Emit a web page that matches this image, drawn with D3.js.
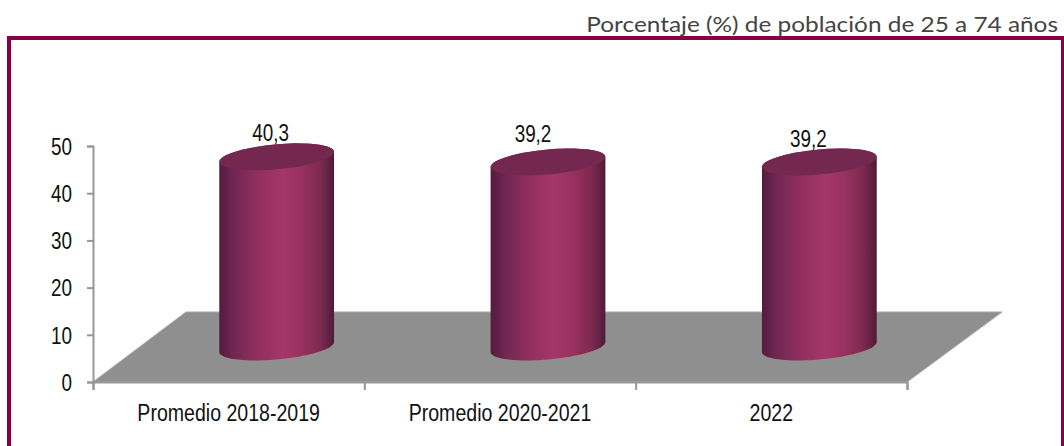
<!doctype html>
<html lang="es">
  <head>
    <meta charset="utf-8">
    <title>Porcentaje de población de 25 a 74 años</title>
    <script src="https://cdn.jsdelivr.net/npm/d3@7"></script>
    <style>
      html, body { margin: 0; padding: 0; background: #fff; overflow: hidden; }
      svg { display: block; }
      text { font-family: "Liberation Sans", Arial, sans-serif; fill: #111; }
    </style>
  </head>
  <body>
    <script>
      const categories = ["Promedio 2018-2019", "Promedio 2020-2021", "2022"];
      const values = [40.3, 39.2, 39.2];
      const valueLabels = ["40,3", "39,2", "39,2"];
      const yTicks = [0, 10, 20, 30, 40, 50];
      const subtitle = "Porcentaje (%) de población de 25 a 74 años";

      const w = 1064;
      const h = 446;
      const maroon = "#8a0044";
      const axisGrey = "#979797";

      // plot box of the front plane
      const plotLeft = 93, plotRight = 907, plotBottom = 382, plotTop = 146;
      // the floor goes back by this much, the bars stand halfway in
      const depthX = 93, depthY = 70;

      // hand placed data labels in the original
      const labelNudgeX = [-6, -15, -11];
      const labelNudgeY = [-16, -20, -15];

      const xBand = d3.scaleBand().domain(categories).range([plotLeft, plotRight]);
      const xEdges = d3.scaleLinear().domain([0, 3]).range([plotLeft, plotRight]);
      const yScale = d3.scaleLinear().domain([0, 50]).range([plotBottom, plotTop]);

      const svg = d3.select("body").append("svg")
        .attr("width", w)
        .attr("height", h);

      // squeeze text sideways like the stretched picture
      function squeeze(sel, k) {
        sel.each(function () {
          const len = this.getComputedTextLength();
          d3.select(this)
            .attr("textLength", len * k)
            .attr("lengthAdjust", "spacingAndGlyphs");
        });
      }

      const defs = svg.append("defs");
      const grad = defs.append("linearGradient").attr("id", "cyl");
      [[0, "#521c3e"], [0.12, "#6f2650"], [0.3, "#8d2e5d"], [0.55, "#a43669"],
       [0.72, "#98315f"], [0.88, "#7d2950"], [1, "#4f1b3a"]].forEach((s) => {
        grad.append("stop").attr("offset", s[0]).attr("stop-color", s[1]);
      });

      // frame (open at the bottom)
      svg.append("path")
        .attr("d", `M9,${h} V38 H1063 V${h}`)
        .attr("fill", "none")
        .attr("stroke", maroon)
        .attr("stroke-width", 4);

      svg.append("text")
        .attr("x", 1058)
        .attr("y", 32)
        .attr("text-anchor", "end")
        .style("font-family", "Lato, 'Open Sans', sans-serif")
        .style("font-size", "22px")
        .style("fill", "#444")
        .text(subtitle)
        .call(squeeze, 1.108);

      // floor
      const floor = d3.line()([
        [plotLeft, plotBottom],
        [plotLeft + depthX, plotBottom - depthY],
        [plotRight + depthX + 2, plotBottom - depthY],
        [plotRight, plotBottom]
      ]) + "Z";
      svg.append("path")
        .attr("d", floor)
        .attr("fill", "#8f8f8f")
        .attr("stroke", "#a6a6a6")
        .attr("stroke-width", 1);

      // axes
      const yAxis = d3.axisLeft(yScale).tickValues(yTicks).tickSize(6).tickPadding(15);
      const gy = svg.append("g")
        .attr("transform", `translate(${plotLeft},0)`)
        .call(yAxis);
      gy.selectAll("path, line").attr("stroke", axisGrey).attr("stroke-width", 2);
      gy.selectAll("text")
        .style("font-size", "23px")
        .style("font-family", "'Liberation Sans', Arial, sans-serif")
        .attr("dy", "0.36em")
        .call(squeeze, 0.82);

      const xAxis = d3.axisBottom(xEdges).ticks(3).tickSize(8).tickFormat("");
      const gx = svg.append("g")
        .attr("transform", `translate(0,${plotBottom})`)
        .call(xAxis);
      gx.selectAll("path, line").attr("stroke", axisGrey).attr("stroke-width", 2);

      svg.append("g").selectAll("text")
        .data(categories)
        .enter()
        .append("text")
        .attr("x", (d) => xBand(d) + xBand.bandwidth() / 2)
        .attr("y", 421)
        .attr("text-anchor", "middle")
        .style("font-size", "23px")
        .text((d) => d)
        .call(squeeze, 0.85);

      // cylinders: sheared ellipse so the rim tilts up to the right
      const rx = xBand.bandwidth() * 0.2115;
      const ry = 12.5;
      const tilt = 5;
      const rim = (cx, cy, a, b) => d3.range(0, 41).map((i) => {
        const t = a + (b - a) * i / 40;
        return [cx + rx * Math.cos(t), cy - tilt * Math.cos(t) + ry * Math.sin(t)];
      });
      const line = d3.line();

      const bars = svg.append("g").selectAll("g")
        .data(categories)
        .enter()
        .append("g");

      const cx = (d) => xBand(d) + xBand.bandwidth() / 2 + depthX / 2 + 1.5;
      const baseY = plotBottom - depthY / 2;
      const topY = (i) => yScale(values[i]) - depthY / 2;

      bars.append("path")
        .attr("d", (d, i) => line([
          ...rim(cx(d), baseY, 0, Math.PI),
          ...rim(cx(d), topY(i), Math.PI, 2 * Math.PI)
        ]) + "Z")
        .attr("fill", "url(#cyl)");

      bars.append("path")
        .attr("d", (d, i) => line(rim(cx(d), topY(i), 0, 2 * Math.PI)) + "Z")
        .attr("fill", "#74274f");

      bars.append("text")
        .attr("x", (d, i) => cx(d) + labelNudgeX[i])
        .attr("y", (d, i) => topY(i) + labelNudgeY[i])
        .attr("text-anchor", "middle")
        .style("font-size", "23px")
        .text((d, i) => valueLabels[i])
        .call(squeeze, 0.82);
    </script>
  </body>
</html>
